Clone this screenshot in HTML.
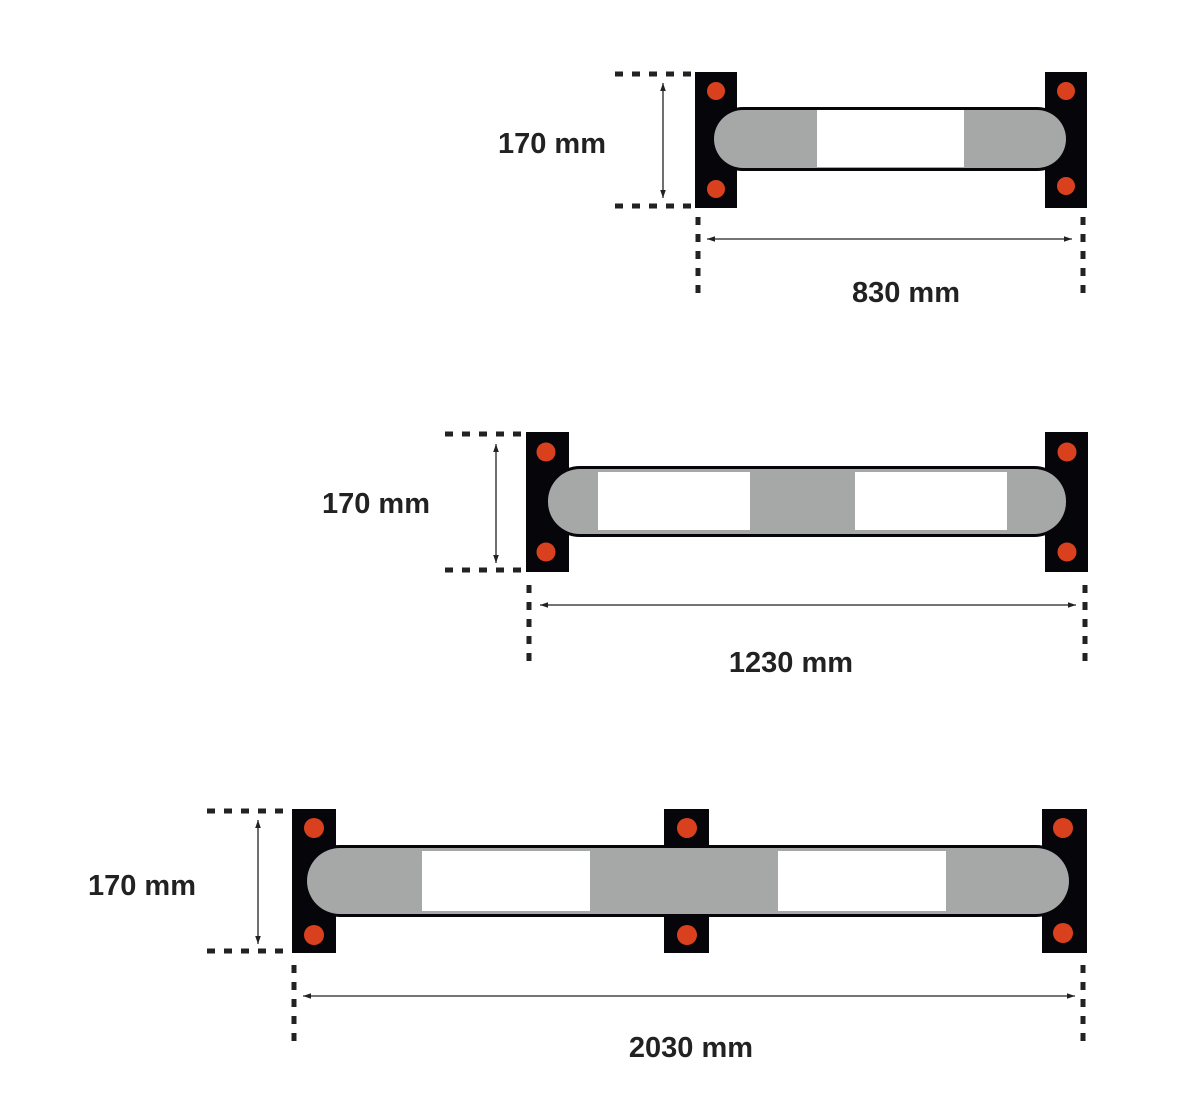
<!DOCTYPE html>
<html><head><meta charset="utf-8"><style>
html,body{margin:0;padding:0;background:#fff;}
svg{display:block;}
text{font-family:"Liberation Sans",sans-serif;font-weight:bold;font-size:29px;fill:#222;}
</style></head><body>
<svg width="1186" height="1103" viewBox="0 0 1186 1103" xmlns="http://www.w3.org/2000/svg">
<defs>
<marker id="a" viewBox="0 0 10 10" refX="10" refY="5" markerWidth="8" markerHeight="8" orient="auto-start-reverse" markerUnits="userSpaceOnUse"><path d="M0,1.5 L10,5 L0,8.5 z" fill="#222"/></marker>
</defs>
<g stroke="#222" stroke-width="5" stroke-dasharray="8,9" fill="none">
<line x1="615" y1="74" x2="692" y2="74"/><line x1="615" y1="206" x2="692" y2="206"/>
<line x1="698" y1="217" x2="698" y2="295"/><line x1="1083" y1="217" x2="1083" y2="295"/>
<line x1="445" y1="434" x2="522" y2="434"/><line x1="445" y1="570" x2="522" y2="570"/>
<line x1="529" y1="585" x2="529" y2="663"/><line x1="1085" y1="585" x2="1085" y2="663"/>
<line x1="207" y1="811" x2="287" y2="811"/><line x1="207" y1="951" x2="287" y2="951"/>
<line x1="294" y1="965" x2="294" y2="1048"/><line x1="1083" y1="965" x2="1083" y2="1048"/>
</g>
<g stroke="#222" stroke-width="1.3" marker-start="url(#a)" marker-end="url(#a)">
<line x1="663" y1="83" x2="663" y2="198"/><line x1="707" y1="239" x2="1072" y2="239"/>
<line x1="496" y1="444" x2="496" y2="563"/><line x1="540" y1="605" x2="1076" y2="605"/>
<line x1="258" y1="820" x2="258" y2="944"/><line x1="303" y1="996" x2="1075" y2="996"/>
</g>
<rect x="695" y="72" width="42" height="136" fill="#05050a"/>
<rect x="1045" y="72" width="42" height="136" fill="#05050a"/>
<rect x="711" y="107" width="358" height="64" rx="32" fill="#05050a"/>
<rect x="714" y="110" width="352" height="58" rx="29" fill="#a6a8a8"/>
<rect x="817" y="110" width="147" height="57" fill="#fff"/>
<g fill="#d9411e"><circle cx="716" cy="91" r="9"/><circle cx="716" cy="189" r="9"/><circle cx="1066" cy="91" r="9"/><circle cx="1066" cy="186" r="9"/></g>
<text x="552" y="153" text-anchor="middle">170 mm</text>
<text x="906" y="302" text-anchor="middle">830 mm</text>
<rect x="526" y="432" width="43" height="140" fill="#05050a"/>
<rect x="1045" y="432" width="43" height="140" fill="#05050a"/>
<rect x="545" y="466" width="524" height="71" rx="35" fill="#05050a"/>
<rect x="548" y="469" width="518" height="65" rx="32" fill="#a6a8a8"/>
<rect x="598" y="472" width="152" height="58" fill="#fff"/>
<rect x="855" y="472" width="152" height="58" fill="#fff"/>
<g fill="#d9411e"><circle cx="546" cy="452" r="9.5"/><circle cx="546" cy="552" r="9.5"/><circle cx="1067" cy="452" r="9.5"/><circle cx="1067" cy="552" r="9.5"/></g>
<text x="376" y="513" text-anchor="middle">170 mm</text>
<text x="791" y="672" text-anchor="middle">1230 mm</text>
<rect x="292" y="809" width="44" height="144" fill="#05050a"/>
<rect x="664" y="809" width="45" height="144" fill="#05050a"/>
<rect x="1042" y="809" width="45" height="144" fill="#05050a"/>
<rect x="304" y="845" width="768" height="72" rx="36" fill="#05050a"/>
<rect x="307" y="848" width="762" height="66" rx="33" fill="#a6a8a8"/>
<rect x="422" y="851" width="168" height="60" fill="#fff"/>
<rect x="778" y="851" width="168" height="60" fill="#fff"/>
<g fill="#d9411e"><circle cx="314" cy="828" r="10"/><circle cx="314" cy="935" r="10"/><circle cx="687" cy="828" r="10"/><circle cx="687" cy="935" r="10"/><circle cx="1063" cy="828" r="10"/><circle cx="1063" cy="933" r="10"/></g>
<text x="142" y="895" text-anchor="middle">170 mm</text>
<text x="691" y="1057" text-anchor="middle">2030 mm</text>
</svg>
</body></html>
